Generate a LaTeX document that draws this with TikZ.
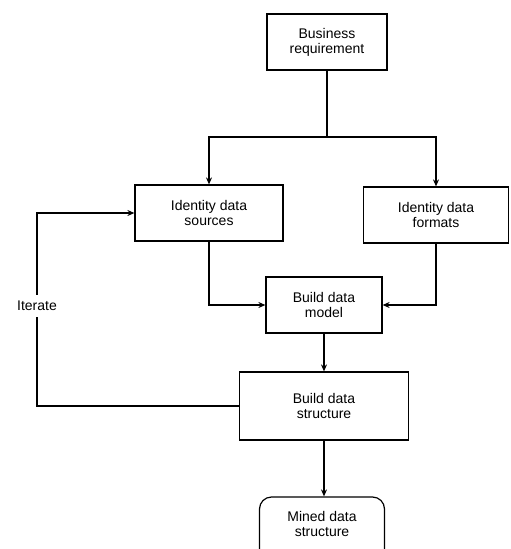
\documentclass[tikz,border=0pt]{standalone}
\usepackage{fontspec}
\setmainfont{Liberation Sans}
\usetikzlibrary{arrows.meta}

\begin{document}
\begin{tikzpicture}[x=1pt,y=-1pt,
  stepbox/.style={draw,line width=1.2pt,align=center,inner sep=2pt,
    font=\fontsize{14}{15}\selectfont},
  endbox/.style={stepbox,rounded corners=12pt},
  arr/.style={line width=1.2pt,-{Stealth[length=7pt,width=6pt]}},
  ln/.style={line width=1.2pt}]
\useasboundingbox (0,0) rectangle (511,549);
\clip (0,0) rectangle (511,549);
% boxes
\node[stepbox,minimum width=120pt,minimum height=56pt] (req) at (327,42) {Business\\requirement};
\node[stepbox,minimum width=148pt,minimum height=56pt] (src) at (209,213) {Identity data\\sources};
\node[stepbox,minimum width=145pt,minimum height=56pt] (fmt) at (436,215) {Identity data\\formats};
\node[stepbox,minimum width=116pt,minimum height=56pt] (model) at (324,305) {Build data\\model};
\node[stepbox,minimum width=169pt,minimum height=68pt] (struct) at (324,406) {Build data\\structure};
\node[endbox,minimum width=125pt,minimum height=64pt,text depth=10pt] (mined) at (322,529) {Mined data\\structure};
\node[font=\fontsize{14}{15}\selectfont,inner sep=6pt] (iter) at (37,306) {Iterate};
% connectors
\coordinate (split) at (327,137);
\draw[ln] (req.south) -- (split);
\draw[arr] (split) -| (src.north);
\draw[arr] (split) -| (fmt.north);
\draw[arr] (src.south) |- (model.west);
\draw[arr] (fmt.south) |- (model.east);
\draw[arr] (model.south) -- (struct.north);
\draw[arr] (struct.south) -- (struct.south |- mined.north);
\draw[ln] (struct.west) -| (iter.south);
\draw[arr] (iter.north) |- (src.west);
\end{tikzpicture}
\end{document}
